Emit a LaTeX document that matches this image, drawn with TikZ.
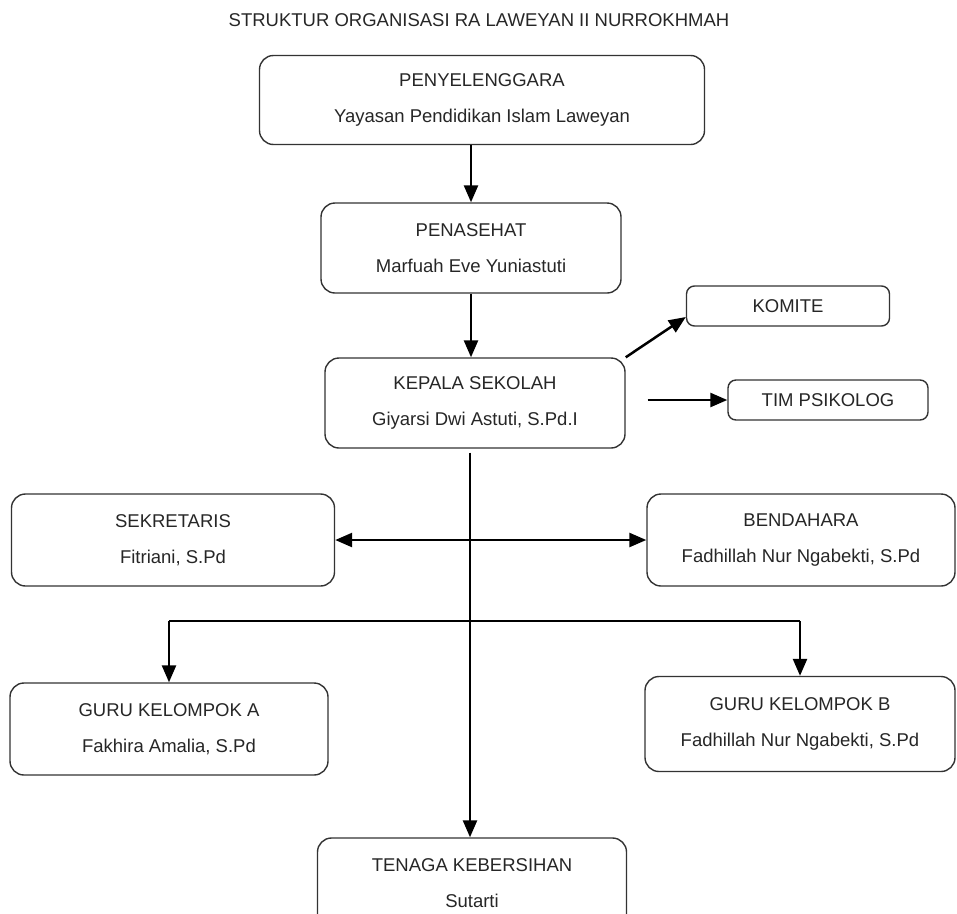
\documentclass[tikz,border=0pt]{standalone}
\usepackage{fontspec}
\setmainfont{Liberation Sans}
\usetikzlibrary{arrows.meta}
\begin{document}
\begin{tikzpicture}[x=1pt,y=-1pt,
        box/.style={draw=black!80, line width=1.4pt, rounded corners=14pt, align=center,
            inner sep=0pt, text=black!85, font=\fontsize{18.5}{36}\selectfont},
        link/.style={line width=2.5pt, ->, >={Triangle[length=17pt,width=14pt]}}]
        \useasboundingbox (0,0) rectangle (957,913);
        \node[text=black!85, font=\fontsize{18.5}{22}\selectfont] (judul) at (479,20) {STRUKTUR ORGANISASI RA LAWEYAN II NURROKHMAH};

        \node[box, minimum width=445pt, minimum height=89pt] (penyelenggara) at (482,100) {PENYELENGGARA\\Yayasan Pendidikan Islam Laweyan};
        \node[box, minimum width=300pt, minimum height=90pt] (penasehat) at (471,248) {PENASEHAT\\Marfuah Eve Yuniastuti};
        \node[box, minimum width=300pt, minimum height=90pt] (kepala) at (475,403) {KEPALA SEKOLAH\\Giyarsi Dwi Astuti, S.Pd.I};
        \node[box, minimum width=203pt, minimum height=40pt, rounded corners=8pt] (komite) at (788,306) {KOMITE};
        \node[box, minimum width=200pt, minimum height=40pt, rounded corners=8pt] (psikolog) at (828,400) {TIM PSIKOLOG};

        \node[box, minimum width=323pt, minimum height=92pt] (sekretaris) at (173,540) {SEKRETARIS\\Fitriani, S.Pd};
        \node[box, minimum width=308pt, minimum height=92pt] (bendahara) at (801,540) {BENDAHARA\\Fadhillah Nur Ngabekti, S.Pd};
        \node[box, minimum width=318pt, minimum height=92pt] (guruA) at (169,729) {GURU KELOMPOK A\\Fakhira Amalia, S.Pd};
        \node[box, minimum width=310pt, minimum height=95pt] (guruB) at (800,724) {GURU KELOMPOK B\\Fadhillah Nur Ngabekti, S.Pd};
        \node[box, minimum width=309pt, minimum height=90pt] (kebersihan) at (472,883) {TENAGA KEBERSIHAN\\Sutarti};

        % garis komando
        \draw[link] (penyelenggara.south -| penasehat.north) -- (penasehat.north);
        \draw[link] (penasehat.south) -- (penasehat.south |- kepala.north);
        \draw[link] (kepala.north east) -- ([yshift=-11pt]komite.west);
        \coordinate (psiawal) at ([xshift=22pt]kepala.east);
        \draw[link] (psiawal |- psikolog.west) -- (psikolog.west);

        \coordinate (batang) at ([yshift=-4pt]kepala.south);
        \coordinate (cabang) at (470,621);
        \draw[link] (batang -| cabang) -- (kebersihan.north -| cabang);
        \draw[link, <->] (sekretaris) -- (bendahara);
        \draw[line width=2.5pt] (cabang -| guruA.north) -- (cabang -| guruB.north);
        \draw[link] (cabang -| guruA.north) -- (guruA.north);
        \draw[link] (cabang -| guruB.north) -- (guruB.north);
    \end{tikzpicture}
\end{document}
